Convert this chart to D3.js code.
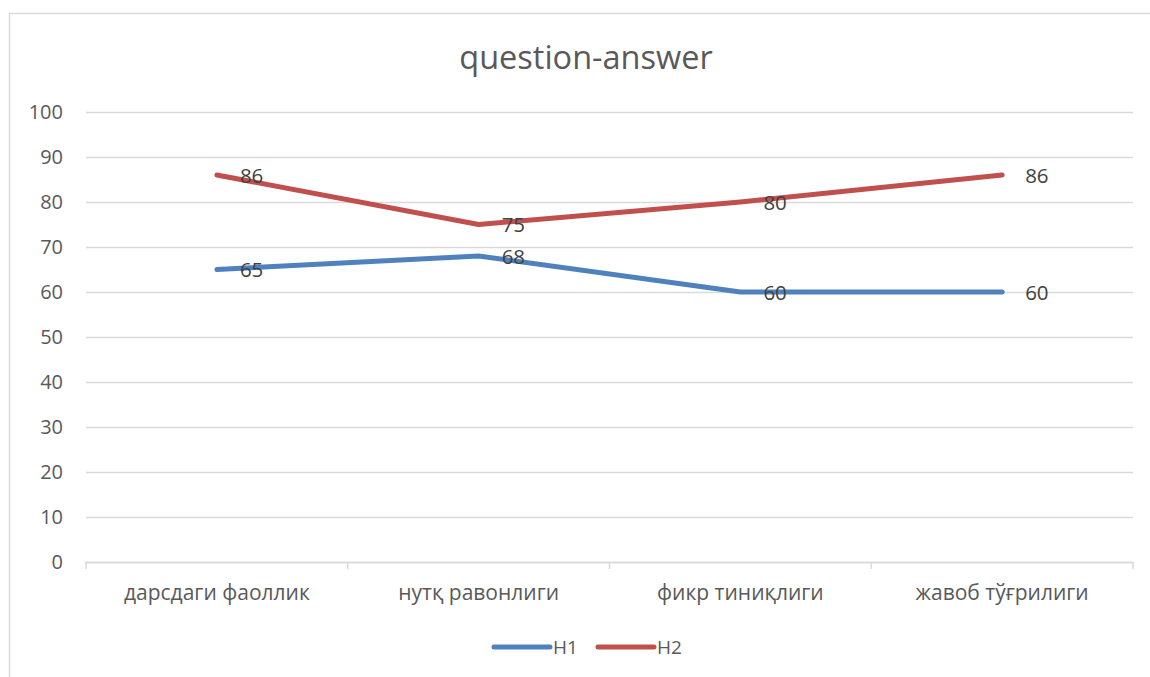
<!DOCTYPE html>
<html>
<head>
<meta charset="utf-8">
<script src="https://cdn.jsdelivr.net/npm/d3@7"></script>
<style>
  html, body { margin: 0; padding: 0; background: #fff; }
  svg { display: block; font-family: "Open Sans", "Noto Sans", sans-serif; }
</style>
</head>
<body>
<svg id="chart" width="1150" height="677"></svg>
<script>
// Categories and series values
const categories = ["дарсдаги фаоллик", "нутқ равонлиги", "фикр тиниқлиги", "жавоб тўғрилиги"];
const seriesNames = ["H1", "H2"];
const h1Values = [65, 68, 60, 60];
const h2Values = [86, 75, 80, 86];
const yTicks = [0, 10, 20, 30, 40, 50, 60, 70, 80, 90, 100];
const chartTitle = "question-answer";

const colors = { H1: "#4f81bd", H2: "#c0504d" };
const textColor = "#595959";
const gridColor = "#d9d9d9";

const svg = d3.select("#chart");

// Outer chart frame
svg.append("rect")
  .attr("x", 9.5).attr("y", 13.5)
  .attr("width", 1200).attr("height", 700)
  .attr("fill", "#fff")
  .attr("stroke", "#d9d9d9").attr("stroke-width", 1.5);

const plot = { left: 86, right: 1133, top: 112, bottom: 562 };

const x = d3.scaleBand()
  .domain(categories)
  .range([plot.left, plot.right])
  .paddingInner(0).paddingOuter(0);

const y = d3.scaleLinear()
  .domain([0, 100])
  .range([plot.bottom, plot.top]);

// Title
svg.append("text")
  .attr("x", 586)
  .attr("y", 69)
  .attr("text-anchor", "middle")
  .attr("font-size", 32.5)
  .attr("fill", textColor)
  .text(chartTitle);

// Horizontal gridlines
const yAxis = d3.axisLeft(y)
  .tickValues(yTicks)
  .tickSize(-(plot.right - plot.left))
  .tickPadding(23);

const gy = svg.append("g")
  .attr("transform", `translate(${plot.left},0)`)
  .call(yAxis);
gy.select(".domain").remove();
gy.selectAll(".tick line")
  .attr("stroke", gridColor).attr("stroke-width", 1.5);
gy.selectAll(".tick text")
  .attr("font-size", 20)
  .attr("font-family", "Open Sans, sans-serif")
  .attr("fill", textColor);

// Category axis with boundary ticks
const gx = svg.append("g")
  .attr("transform", `translate(0,${plot.bottom})`)
  .call(d3.axisBottom(x).tickSize(0).tickPadding(23));
gx.select(".domain")
  .attr("stroke", gridColor).attr("stroke-width", 1.5);
gx.selectAll(".tick text")
  .attr("font-size", 21)
  .attr("font-family", "Open Sans, sans-serif")
  .attr("fill", textColor);

const boundaries = categories.map(c => x(c)).concat([x.range()[1]]);
gx.selectAll("line.boundary")
  .data(boundaries)
  .join("line")
  .attr("class", "boundary")
  .attr("x1", d => d).attr("x2", d => d)
  .attr("y1", 0).attr("y2", 7)
  .attr("stroke", gridColor).attr("stroke-width", 1.5);

// Lines
const series = [
  { name: "H1", values: h1Values },
  { name: "H2", values: h2Values }
];

const line = d3.line()
  .x((d, i) => x(categories[i]) + x.bandwidth() / 2)
  .y(d => y(d));

svg.selectAll("path.series")
  .data(series)
  .join("path")
  .attr("class", "series")
  .attr("d", d => line(d.values))
  .attr("fill", "none")
  .attr("stroke", d => colors[d.name])
  .attr("stroke-width", 5)
  .attr("stroke-linecap", "round")
  .attr("stroke-linejoin", "round");

// Data labels to the right of each point
series.forEach(s => {
  svg.selectAll(null)
    .data(s.values)
    .join("text")
    .attr("x", (d, i) => x(categories[i]) + x.bandwidth() / 2 + 23)
    .attr("y", d => y(d))
    .attr("dy", "0.38em")
    .attr("font-size", 20.5)
    .attr("fill", "#404040")
    .text(d => d);
});

// Legend
const legend = svg.append("g").attr("transform", "translate(494,647)");
const legendItems = legend.selectAll("g")
  .data(seriesNames)
  .join("g")
  .attr("transform", (d, i) => `translate(${i * 104},0)`);
legendItems.append("line")
  .attr("x1", 0).attr("x2", 56)
  .attr("y1", 0).attr("y2", 0)
  .attr("stroke", d => colors[d])
  .attr("stroke-width", 5)
  .attr("stroke-linecap", "round");
legendItems.append("text")
  .attr("x", 59).attr("y", 0)
  .attr("dy", "0.36em")
  .attr("font-size", 19)
  .attr("fill", textColor)
  .text(d => d);
</script>
</body>
</html>
